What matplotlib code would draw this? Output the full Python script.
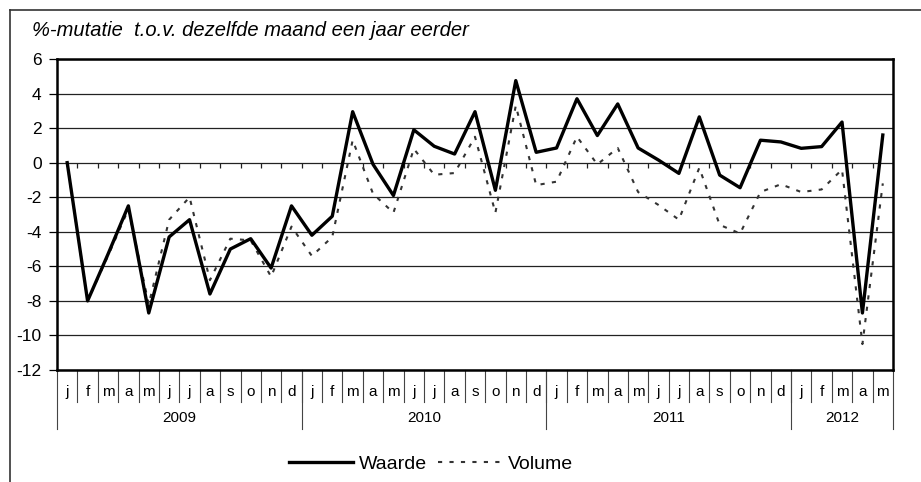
import matplotlib.pyplot as plt
import numpy as np

plt.rcParams['font.family'] = ['Liberation Sans', 'DejaVu Sans']
plt.rcParams['axes.unicode_minus'] = False

# Data: monthly % change vs same month one year earlier (jan 2009 - may 2012)
months = ['j', 'f', 'm', 'a', 'm', 'j', 'j', 'a', 's', 'o', 'n', 'd'] * 3 + ['j', 'f', 'm', 'a', 'm']
years = ['2009', '2010', '2011', '2012']
year_lengths = [12, 12, 12, 5]

waarde = [0.0, -8.0, -5.3, -2.5, -8.7, -4.3, -3.3, -7.6, -5.0, -4.4, -6.1, -2.5,
          -4.2, -3.1, 2.95, -0.1, -1.9, 1.9, 0.95, 0.5, 2.95, -1.6, 4.75, 0.6,
          0.85, 3.7, 1.57, 3.4, 0.85, 0.15, -0.62, 2.65, -0.72, -1.45, 1.3, 1.2,
          0.83, 0.93, 2.35, -8.7, 1.6]
volume = [0.0, -8.0, -5.4, -2.7, -8.2, -3.3, -2.0, -6.8, -4.4, -4.5, -6.6, -3.7,
          -5.4, -4.3, 1.3, -1.8, -2.9, 0.8, -0.7, -0.6, 1.5, -2.9, 3.3, -1.3,
          -1.1, 1.5, -0.1, 0.85, -1.7, -2.45, -3.3, -0.3, -3.6, -4.1, -1.7, -1.25,
          -1.7, -1.55, -0.4, -10.5, -1.2]

W, H = 921, 482
fig = plt.figure(figsize=(W / 100, H / 100), dpi=100)

# outer frame (only top and left visible in the crop)
fig.add_artist(plt.Line2D([10 / W, 10 / W], [0, 1 - 10 / H], color='#333333', lw=1.2))
fig.add_artist(plt.Line2D([10 / W, 1], [1 - 10 / H, 1 - 10 / H], color='#333333', lw=1.2))

left, right, top, bottom = 57, 893, 59, 370
ax = fig.add_axes([left / W, 1 - bottom / H, (right - left) / W, (bottom - top) / H])

x = np.arange(len(months))
ax.set_xlim(-0.5, len(months) - 0.5)
ax.set_ylim(-12, 6)
ax.set_yticks(range(-12, 7, 2))
ax.yaxis.grid(True, color='#222222', lw=0.9)
ax.set_axisbelow(True)
ax.tick_params(axis='y', direction='out', length=6, width=0.9, labelsize=12.5, pad=5)
ax.set_xticks([])
for s in ax.spines.values():
    s.set_linewidth(1.8)

# tick marks on the zero line
ax.vlines(x[:-1] + 0.5, -0.3, 0, color='#222222', lw=0.9)

ax.plot(x, volume, color='#333333', lw=1.5, ls=(0, (2, 3.5)), label='Volume', zorder=3)
ax.plot(x, waarde, color='black', lw=2.4, label='Waarde', zorder=4)

# category labels below the axis
trans = ax.get_xaxis_transform()
for i, m in enumerate(months):
    ax.text(i, -0.071, m, transform=trans, ha='center', va='center', fontsize=11)
for b in x[:-1] + 0.5:
    ax.plot([b, b], [0, -0.103], transform=trans, color='#444444', lw=0.8, clip_on=False)
start = -0.5
for yr, n in zip(years, year_lengths):
    ax.plot([start, start], [0, -0.19], transform=trans, color='#444444', lw=0.8, clip_on=False)
    ax.text(start + n / 2, -0.154, yr, transform=trans, ha='center', va='center', fontsize=11)
    start += n
ax.plot([start, start], [0, -0.19], transform=trans, color='#444444', lw=0.8, clip_on=False)

fig.text(32 / W, 1 - 31 / H, '%-mutatie  t.o.v. dezelfde maand een jaar eerder',
         style='italic', fontsize=14.5, va='center', ha='left')

h, l = ax.get_legend_handles_labels()
fig.legend(h[::-1], l[::-1], loc='center', bbox_to_anchor=(431 / W, 1 - 464 / H), ncol=2,
           frameon=False, fontsize=14, handlelength=3.3, columnspacing=0.6, handletextpad=0.3)

fig.savefig('out.png', dpi=100)
